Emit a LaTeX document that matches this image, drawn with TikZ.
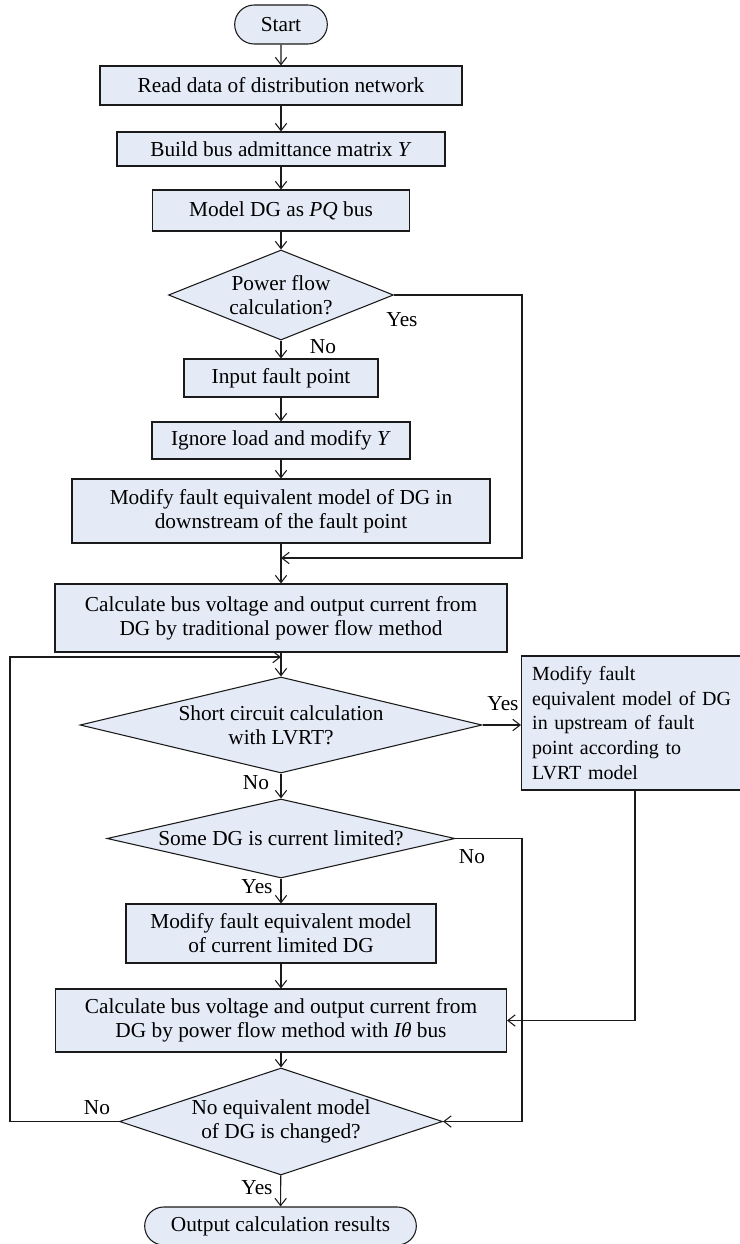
\documentclass[tikz,border=0pt]{standalone}
\usepackage{fontspec}
\setmainfont{Liberation Serif}
\usetikzlibrary{arrows.meta,shapes.geometric,shapes.misc}
\definecolor{boxfill}{HTML}{E4EAF6}
\definecolor{stroke}{HTML}{1A1A1A}

\begin{document}
\begin{tikzpicture}[
  x=0.75pt, y=-0.75pt,
  >={Straight Barb[length=5.5pt,width=8.5pt]},
  every node/.style={font=\fontsize{16}{18}\selectfont},
  proc/.style={draw=stroke, line width=0.8pt, fill=boxfill,
     align=center, inner sep=2pt},
  term/.style={proc, rounded rectangle},
  dec/.style={proc, diamond, inner sep=0pt},
  lbl/.style={inner sep=1pt},
  arr/.style={->, line width=0.8pt, draw=stroke},
]
\useasboundingbox (0,0) rectangle (739,1244);
% --- columns ---
\def\xc{281}  \def\xr{522}  \def\xl{10}  \def\xu{635}
% --- start and setup ---
\node[term, minimum width=73.5pt, minimum height=29.25pt] (start) at (\xc,24.5) {Start};
\node[proc, minimum width=271.5pt, minimum height=29.25pt] (read) at (\xc,85.5) {Read data of distribution network};
\node[proc, minimum width=246pt, minimum height=25.5pt] (build) at (\xc,149) {Build bus admittance matrix \textit{Y}};
\node[proc, minimum width=192.75pt, minimum height=30.75pt] (model) at (\xc,210.5) {Model DG as \textit{PQ} bus};
% --- power flow branch ---
\node[dec, aspect=2.5, minimum width=168.75pt, minimum height=67.5pt] (pf) at (\xc,295) {Power flow\\calculation?};
\node[proc, minimum width=145.5pt, minimum height=28.5pt] (input) at (\xc,378) {Input fault point};
\node[proc, minimum width=193.5pt, minimum height=27.75pt] (ignore) at (\xc,440.5) {Ignore load and modify \textit{Y}};
\node[proc, minimum width=313.5pt, minimum height=48pt] (modds) at (\xc,511) {Modify fault equivalent model of DG in\\downstream of the fault point};
\node[proc, minimum width=339pt, minimum height=51pt] (calc1) at (\xc,618) {Calculate bus voltage and output current from\\DG by traditional power flow method};
% --- short circuit loop ---
\node[dec, aspect=4.2, minimum width=301.5pt, minimum height=72pt] (sc) at (\xc,725) {Short circuit calculation\\with LVRT?};
\node[proc, anchor=west, align=left, text width=165pt, inner xsep=8pt, minimum height=100.5pt,
  font=\fontsize{15}{18.5}\selectfont] (up) at (521,723)
  {Modify fault\\equivalent model of DG\\in upstream of fault\\point according to\\LVRT model};
\node[dec, aspect=5, minimum width=261pt, minimum height=59.25pt] (somedg) at (\xc,838.5) {Some DG is current limited?};
\node[proc, minimum width=232.5pt, minimum height=44.25pt] (curlim) at (\xc,933.5) {Modify fault equivalent model\\of current limited DG};
\node[proc, minimum width=338.25pt, minimum height=47.25pt] (calc2) at (\xc,1020.5) {Calculate bus voltage and output current from\\DG by power flow method with \textit{Iθ} bus};
\node[dec, aspect=3, minimum width=242.25pt, minimum height=80.25pt] (noeq) at (\xc,1121.5) {No equivalent model\\of DG is changed?};
\node[term, minimum width=207.75pt, minimum height=28.5pt] (out) at (280.5,1226) {Output calculation results};
% --- branch labels ---
\node[lbl] (pfyes) at (402,320) {Yes};
\node[lbl] (pfno) at (323,347) {No};
\node[lbl] (scyes) at (503,704) {Yes};
\node[lbl] (scno) at (256,783) {No};
\node[lbl] (dgno) at (472,857) {No};
\node[lbl] (dgyes) at (257,887) {Yes};
\node[lbl] (eqno) at (97,1108) {No};
\node[lbl] (eqyes) at (257,1188) {Yes};
% --- merge points ---
\coordinate (m1) at (\xc,558);
\coordinate (m2) at (\xc,657);
% --- arrows ---
\draw[arr] (start) -- (read);
\draw[arr] (read) -- (build);
\draw[arr] (build) -- (model);
\draw[arr] (model) -- (pf);
\draw[arr] (pf) -- (input);
\draw[arr] (input) -- (ignore);
\draw[arr] (ignore) -- (modds);
\draw[arr] (modds) -- (calc1);
\draw[arr] (pf.east) -| (\xr,558) -- (m1);
\draw[arr] (calc1) -- (sc);
\draw[arr] (sc.east) -- (sc.east -| up.west);
\draw[arr] (sc) -- (somedg);
\draw[arr] (somedg) -- (curlim);
\draw[arr] (curlim) -- (calc2);
\draw[arr] (up.south -| \xu,0) |- (calc2.east);
\draw[arr] (somedg.east) -| (\xr,1121.5) -- (noeq.east);
\draw[arr] (calc2) -- (noeq);
\draw[arr] (noeq.west) -| (\xl,657) -- (m2);
\draw[arr] (noeq) -- (out);
\end{tikzpicture}
\end{document}
